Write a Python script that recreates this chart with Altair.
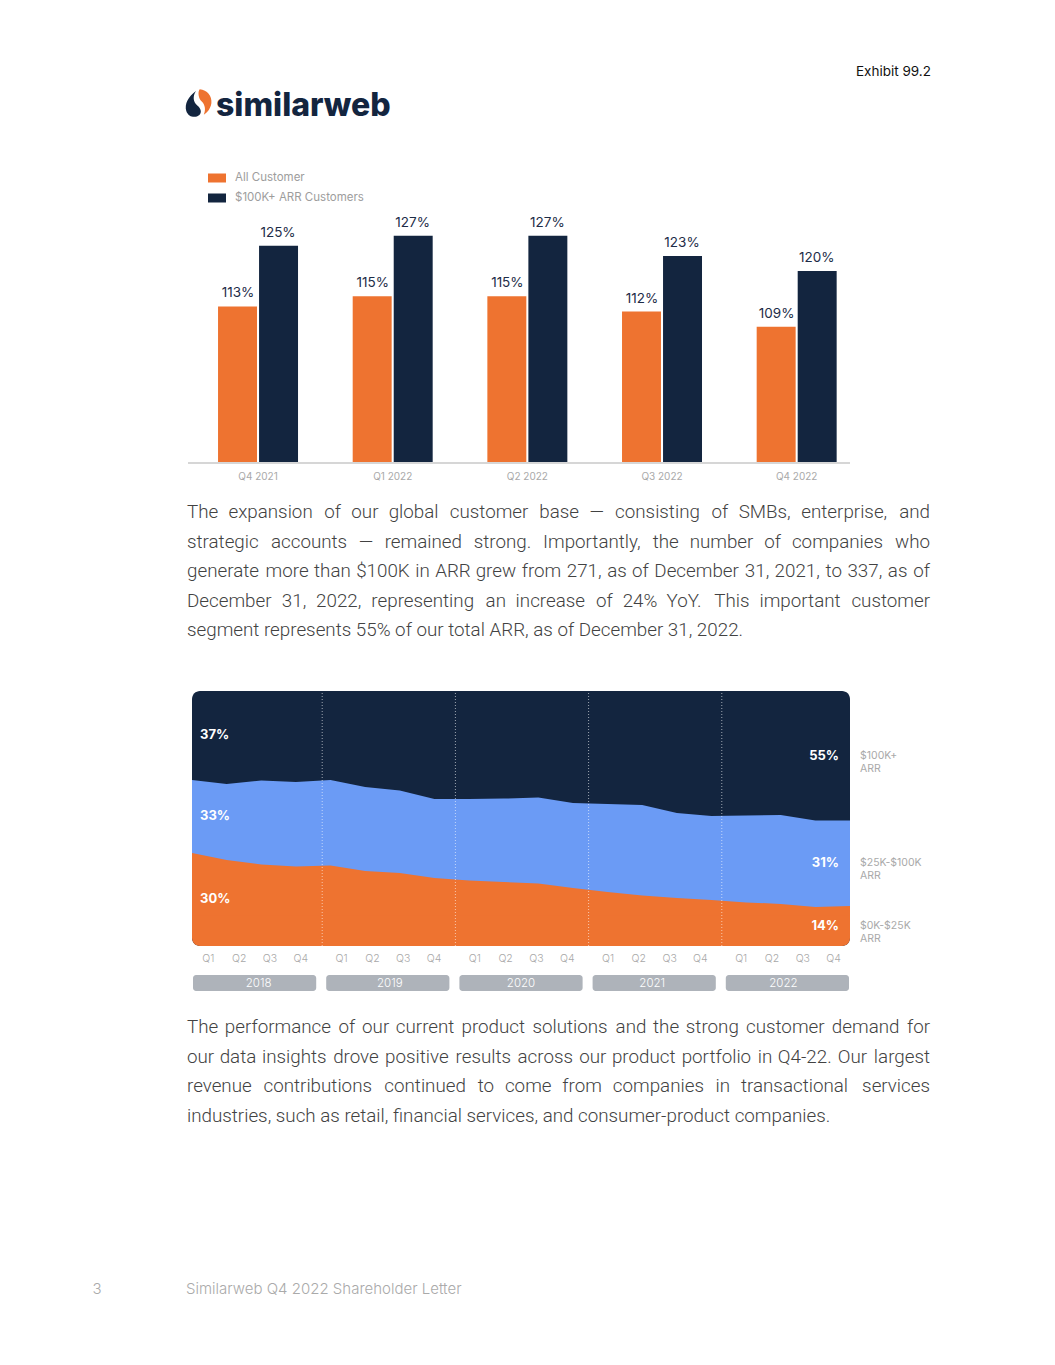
import altair as alt
import pandas as pd

# ---------------- data ----------------
exhibit_label = "Exhibit 99.2"
brand_name = "similarweb"

bar_quarters = ["Q4 2021", "Q1 2022", "Q2 2022", "Q3 2022", "Q4 2022"]
bar_series = ["All Customer", "$100K+ ARR Customers"]
all_customer_nrr = [113, 115, 115, 112, 109]
arr100k_nrr = [125, 127, 127, 123, 120]

para1 = [
    "The expansion of our global customer base \u2014 consisting of SMBs, enterprise, and",
    "strategic accounts \u2014 remained strong. Importantly, the number of companies who",
    "generate more than $100K in ARR grew from 271, as of December 31, 2021,  to 337, as of",
    "December 31, 2022, representing an increase of 24% YoY. This important customer",
    "segment represents 55% of our total ARR, as of December 31, 2022.",
]

area_years = ["2018", "2019", "2020", "2021", "2022"]
area_quarters = ["Q1", "Q2", "Q3", "Q4"]
share_0_25k = [36.5, 33.7, 32.0, 31.2, 31.6, 29.4, 28.6, 26.7, 25.7, 25.1,
               24.5, 22.7, 21.2, 19.8, 18.8, 18.0, 17.1, 16.5, 15.3, 15.7]
share_25_100k = [28.6, 29.8, 32.9, 33.1, 33.5, 33.0, 32.4, 30.9, 31.9, 32.7,
                 33.7, 33.4, 34.5, 35.5, 33.4, 33.0, 34.1, 34.9, 33.9, 33.5]
share_100k = [34.9, 36.5, 35.1, 35.7, 34.9, 37.6, 39.0, 42.4, 42.4, 42.2,
              41.8, 43.9, 44.3, 44.7, 47.8, 49.0, 48.8, 48.6, 50.8, 50.8]
segment_names = ["$0K-$25K\nARR", "$25K-$100K\nARR", "$100K+\nARR"]
first_labels = ["30%", "33%", "37%"]
last_labels = ["14%", "31%", "55%"]

para2 = [
    "The performance of our current product solutions and the strong customer demand for",
    "our data insights drove positive results across our product portfolio in Q4-22. Our largest",
    "revenue contributions continued to come from companies in transactional services",
    "industries, such as retail, financial services, and consumer-product companies.",
]

footer_page = "3"
footer_title = "Similarweb Q4 2022 Shareholder Letter"

# ---------------- style ----------------
ORANGE = "#ee7330"
NAVY = "#13253f"
BLUE = "#6b9bf5"
LIGHT = "#a9a9a9"
PILL = "#aeb3ba"
BODY = "#424242"
UI_FONT = "Inter"
BODY_FONT = "Roboto"
BODY_SIZE = 18.8

# approximate Roboto advance widths (units per em 2048), used to justify lines
W = {' ': 507, 'a': 1114, 'b': 1149, 'c': 1072, 'd': 1155, 'e': 1085, 'f': 711, 'g': 1149,
     'h': 1128, 'i': 497, 'j': 489, 'k': 1038, 'l': 497, 'm': 1794, 'n': 1130, 'o': 1168,
     'p': 1149, 'q': 1164, 'r': 693, 's': 1056, 't': 669, 'u': 1129, 'v': 992, 'w': 1539,
     'x': 1015, 'y': 969, 'z': 1015, 'A': 1336, 'B': 1275, 'C': 1333, 'D': 1343, 'E': 1163,
     'F': 1131, 'G': 1394, 'H': 1463, 'I': 558, 'J': 1131, 'K': 1287, 'L': 1103, 'M': 1791,
     'N': 1461, 'O': 1409, 'P': 1292, 'Q': 1409, 'R': 1262, 'S': 1217, 'T': 1223, 'U': 1331,
     'V': 1303, 'W': 1817, 'X': 1284, 'Y': 1229, 'Z': 1226, ',': 402, '.': 540, '-': 553,
     '\u2014': 1700, '$': 1150, '%': 1464}


def text_w(s, fs):
    return sum(W.get(c, 1150) for c in s) / 2048.0 * fs


def justify(lines, x0, x1, y0, lh, fs):
    rows = []
    for k, line in enumerate(lines):
        y = y0 + k * lh
        if k == len(lines) - 1:
            rows.append(dict(t=line, x=x0, y=y, last=False))
            continue
        words = line.split()
        ws = [text_w(w, fs) for w in words]
        gap = (x1 - x0 - sum(ws)) / (len(words) - 1)
        x = x0
        for i, (w, ww) in enumerate(zip(words, ws)):
            if i == len(words) - 1:
                rows.append(dict(t=w, x=x1, y=y, last=True))
            else:
                rows.append(dict(t=w, x=x, y=y, last=False))
            x += ww + gap
    return pd.DataFrame(rows)


one = pd.DataFrame({"a": [0]})


def label(text, x, y, **kw):
    return alt.Chart(pd.DataFrame({"t": [text]})).mark_text(**kw).encode(
        x=alt.value(x), y=alt.value(y), text="t:N")


def paragraph(lines, y0):
    df = justify(lines, 179, 922, y0, 29.5, BODY_SIZE)
    common = dict(fontSize=BODY_SIZE, font=BODY_FONT, fontWeight=300, color=BODY, baseline="middle")
    enc = dict(x=alt.X("x:Q", scale=None, axis=None), y=alt.Y("y:Q", scale=None, axis=None), text="t:N")
    left = alt.Chart(df[~df["last"]]).mark_text(align="left", **common).encode(**enc)
    right = alt.Chart(df[df["last"]]).mark_text(align="right", **common).encode(**enc)
    return [left, right]


layers = []

# ---------------- header ----------------
layers.append(label(exhibit_label, 923, 64, align="right", baseline="middle", fontSize=13.5,
                    font=UI_FONT, color="#111111"))
navy_drop = "M-0.15,-0.95 C-0.7,-0.55 -1,0 -0.85,0.5 C-0.7,0.95 -0.2,1.05 0.1,0.8 C0.3,0.6 0.2,0.3 -0.05,0.1 C-0.35,-0.15 -0.4,-0.55 -0.15,-0.95 Z"
orange_drop = "M0.05,-1 C0.6,-0.95 0.95,-0.5 0.9,0 C0.85,0.4 0.6,0.7 0.35,0.85 C0.5,0.5 0.45,0.15 0.2,-0.1 C-0.05,-0.35 -0.1,-0.8 0.05,-1 Z"
layers.append(alt.Chart(one).mark_point(shape=navy_drop, filled=True, size=760, color=NAVY, opacity=1)
              .encode(x=alt.value(190), y=alt.value(96)))
layers.append(alt.Chart(one).mark_point(shape=orange_drop, filled=True, size=760, color=ORANGE, opacity=1)
              .encode(x=alt.value(191), y=alt.value(95)))
layers.append(label(brand_name, 208, 108, align="left", baseline="alphabetic", fontSize=32,
                    fontWeight=800, font=UI_FONT, color=NAVY))

# ---------------- bar chart ----------------
bar_df = pd.DataFrame({
    "quarter": bar_quarters * 2,
    "series": [bar_series[0]] * len(bar_quarters) + [bar_series[1]] * len(bar_quarters),
    "value": all_customer_nrr + arr100k_nrr,
})
bar_df["label"] = bar_df["value"].astype(str) + "%"

bx = alt.Scale(domain=bar_quarters, range=[182.7, 856], paddingInner=0.406, paddingOuter=0.203)
bxo = alt.Scale(domain=bar_series, paddingInner=0.05)
by = alt.Scale(domain=[82, 142], range=[455, 152], zero=False, nice=False)

bars = alt.Chart(bar_df).mark_bar().encode(
    x=alt.X("quarter:N", scale=bx, axis=None),
    xOffset=alt.XOffset("series:N", scale=bxo),
    y=alt.Y("value:Q", scale=by, axis=None),
    y2=alt.datum(82),
    color=alt.Color("series:N", scale=alt.Scale(domain=bar_series, range=[ORANGE, NAVY]),
                    legend=alt.Legend(title=None, orient="none", legendX=200, legendY=161,
                                      direction="vertical", symbolType="M-1,-0.5H1V0.5H-1Z",
                                      symbolSize=324, symbolStrokeWidth=0, labelColor="#9d9d9d",
                                      labelFontSize=11.5, labelFont=UI_FONT, labelOffset=9,
                                      rowPadding=5, padding=0)),
)
bar_text = alt.Chart(bar_df).mark_text(baseline="bottom", dy=-6, fontSize=13.5, font=UI_FONT,
                                       color="#1d2c47").encode(
    x=alt.X("quarter:N", scale=bx, axis=None),
    xOffset=alt.XOffset("series:N", scale=bxo),
    y=alt.Y("value:Q", scale=by, axis=None),
    text="label:N",
)
bar_axis = alt.Chart(one).mark_rule(color="#d6d6d6", strokeWidth=2).encode(
    x=alt.value(180), x2=alt.value(842), y=alt.value(455))
bar_xlabels = alt.Chart(pd.DataFrame({"quarter": bar_quarters})).mark_text(
    fontSize=10, font=UI_FONT, color=LIGHT, baseline="middle").encode(
    x=alt.X("quarter:N", scale=bx, axis=None), y=alt.value(469), text="quarter:N")
layers += [bars, bar_text, bar_axis, bar_xlabels]

# ---------------- paragraph 1 ----------------
layers += paragraph(para1, 504)

# ---------------- stacked area chart ----------------
n = len(share_0_25k)
area_df = pd.DataFrame({
    "idx": list(range(n)),
    "year": [y for y in area_years for _ in area_quarters],
    "q": area_quarters * len(area_years),
    "s0": share_0_25k, "s1": share_25_100k, "s2": share_100k,
})
area_df["c1"] = area_df["s0"] + area_df["s1"]

ax = alt.Scale(domain=[0, n - 1], range=[184, 842], nice=False, zero=False)
ay = alt.Scale(domain=[0, 100], range=[938, 683], nice=False, zero=False)
yr = alt.Scale(domain=area_years, range=[185, 841], paddingInner=0.075, paddingOuter=0)

panel = alt.Chart(one).mark_rect(color=NAVY, cornerRadius=8).encode(
    x=alt.X(datum=0, scale=ax, axis=None), x2=alt.datum(n - 1),
    y=alt.Y(datum=0, scale=ay, axis=None), y2=alt.datum(100))
blue_area = alt.Chart(area_df).mark_area(color=BLUE, opacity=1).encode(
    x=alt.X("idx:Q", scale=ax, axis=None), y=alt.Y("c1:Q", scale=ay, axis=None), y2=alt.datum(11))
orange_area = alt.Chart(area_df).mark_area(color=ORANGE, opacity=1).encode(
    x=alt.X("idx:Q", scale=ax, axis=None), y=alt.Y("s0:Q", scale=ay, axis=None), y2=alt.datum(11))
orange_base = alt.Chart(one).mark_rect(color=ORANGE, cornerRadiusBottomLeft=8,
                                       cornerRadiusBottomRight=8).encode(
    x=alt.X(datum=0, scale=ax, axis=None), x2=alt.datum(n - 1),
    y=alt.Y(datum=0, scale=ay, axis=None), y2=alt.datum(12))
year_lines = alt.Chart(pd.DataFrame({"year": area_years[1:]})).mark_rule(
    color="white", strokeDash=[1, 2], strokeWidth=1, opacity=0.6, xOffset=-4).encode(
    x=alt.X("year:N", scale=yr, axis=None, bandPosition=0),
    y=alt.Y(datum=0, scale=ay, axis=None), y2=alt.datum(100))

# band-middle label positions
lab_rows = []
for i, name in [(0, "first"), (n - 1, "last")]:
    b0 = share_0_25k[i]
    b1 = b0 + share_25_100k[i]
    mids = [b0 / 2, (b0 + b1) / 2, (b1 + 100) / 2]
    for k in range(3):
        lab_rows.append(dict(idx=i, mid=mids[k], which=name,
                             txt=(first_labels if name == "first" else last_labels)[k],
                             seg=segment_names[k], k=k))
lab_df = pd.DataFrame(lab_rows)
lab_enc = dict(x=alt.X("idx:Q", scale=ax, axis=None), y=alt.Y("mid:Q", scale=ay, axis=None))
first_txt = alt.Chart(lab_df[lab_df.which == "first"]).mark_text(
    align="left", dx=8, baseline="middle", fontSize=13, fontWeight="bold", font=UI_FONT,
    color="white").encode(text="txt:N", **lab_enc)
last_txt = alt.Chart(lab_df[lab_df.which == "last"]).mark_text(
    align="right", dx=-11, baseline="middle", fontSize=13, fontWeight="bold", font=UI_FONT,
    color="white").encode(text="txt:N", **lab_enc)
seg_txt = alt.Chart(lab_df[lab_df.which == "last"]).mark_text(
    align="left", dx=10, baseline="middle", fontSize=10.5, font=UI_FONT, color=LIGHT,
    lineBreak="\n", lineHeight=13).encode(text="seg:N", **lab_enc)

q_labels = alt.Chart(area_df).mark_text(fontSize=10.5, font=UI_FONT, fontWeight=300,
                                        color="#a8a8a8", baseline="middle").encode(
    x=alt.X("year:N", scale=yr, axis=None),
    xOffset=alt.XOffset("q:N", scale=alt.Scale(domain=area_quarters)),
    y=alt.value(951), text="q:N")
ydf = pd.DataFrame({"year": area_years})
pills = alt.Chart(ydf).mark_rect(color=PILL, cornerRadius=3).encode(
    x=alt.X("year:N", scale=yr, axis=None), y=alt.value(967), y2=alt.value(983))
pill_txt = alt.Chart(ydf).mark_text(color="white", fontSize=11.5, font=UI_FONT, fontWeight=300,
                                    baseline="middle").encode(
    x=alt.X("year:N", scale=yr, axis=None), y=alt.value(975.5), text="year:N")

layers += [panel, blue_area, orange_area, orange_base, year_lines, first_txt, last_txt,
           seg_txt, q_labels, pills, pill_txt]

# ---------------- paragraph 2 ----------------
layers += paragraph(para2, 1019)

# ---------------- footer ----------------
layers.append(label(footer_page, 89, 1281, align="center", baseline="middle", fontSize=15,
                    font=UI_FONT, fontWeight=300, color="#aaaaaa"))
layers.append(label(footer_title, 178, 1281, align="left", baseline="middle", fontSize=15,
                    font=UI_FONT, fontWeight=300, color="#aaaaaa"))

chart = alt.layer(*layers).resolve_scale(
    x="independent", y="independent", color="independent", xOffset="independent"
).properties(
    width=1039, height=1349, padding=0, autosize=alt.AutoSizeParams(type="none")
).configure_view(stroke=None)

chart.save("out.html", embed_options={"renderer": "svg", "actions": False})
